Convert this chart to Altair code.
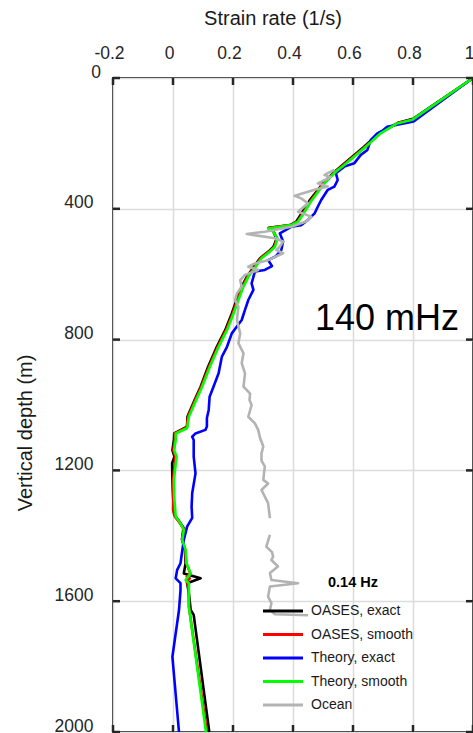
import altair as alt
import pandas as pd

FONT = "Liberation Sans"

series_names = ["OASES, exact", "OASES, smooth", "Theory, exact", "Theory, smooth", "Ocean"]
series_colors = ["#000000", "#ff0000", "#0000ff", "#00ff00", "#b3b3b3"]

x_ticks = [-0.2, 0, 0.2, 0.4, 0.6, 0.8, 1.0]
y_ticks = [0, 400, 800, 1200, 1600, 2000]

# (depth m, strain rate 1/s)
oases_exact = [(0, 1.0), (125, 0.800), (137, 0.750), (166, 0.690), (212, 0.635), (266, 0.565), (290, 0.535),
               (322, 0.500), (375, 0.455), (412, 0.430), (440, 0.410), (450, 0.390), (458, 0.320), (470, 0.335),
               (492, 0.345), (516, 0.335), (531, 0.318), (551, 0.290), (587, 0.262), (608, 0.246), (640, 0.228),
               (679, 0.212), (720, 0.196), (771, 0.174), (822, 0.146), (883, 0.117), (944, 0.092), (985, 0.072),
               (1036, 0.048), (1066, 0.047), (1087, 0.004), (1107, 0.003), (1138, -0.002), (1158, 0.005),
               (1178, -0.003), (1229, -0.002), (1280, 0.000), (1335, 0.004), (1355, 0.020), (1375, 0.035),
               (1410, 0.030), (1443, 0.040), (1484, 0.042), (1515, 0.036), (1530, 0.092), (1545, 0.047),
               (1575, 0.053), (1627, 0.059), (1642, 0.069), (2000, 0.121)]

oases_smooth = [(0, 1.0), (127, 0.800), (138, 0.750), (168, 0.690), (214, 0.636), (266, 0.568), (288, 0.540),
                (322, 0.502), (378, 0.457), (414, 0.433), (440, 0.414), (450, 0.392), (459, 0.318), (470, 0.336),
                (491, 0.347), (516, 0.338), (531, 0.320), (551, 0.292), (587, 0.265), (608, 0.248), (639, 0.232),
                (679, 0.215), (720, 0.199), (771, 0.177), (822, 0.149), (883, 0.120), (944, 0.094), (985, 0.074),
                (1036, 0.050), (1068, 0.046), (1087, 0.006), (1107, 0.006), (1138, 0.001), (1158, 0.008),
                (1229, 0.000), (1280, 0.001), (1320, 0.000), (1341, 0.006), (1360, 0.022), (1380, 0.036),
                (1412, 0.030), (1443, 0.041), (1484, 0.044), (1515, 0.058), (1525, 0.046), (1530, 0.056),
                (1540, 0.046), (1560, 0.052), (1617, 0.053), (2000, 0.113)]

theory_exact = [(0, 1.0), (133, 0.802), (149, 0.714), (160, 0.700), (170, 0.680), (190, 0.659), (220, 0.648),
                (235, 0.626), (261, 0.604), (271, 0.571), (291, 0.543), (312, 0.549), (332, 0.538), (342, 0.516),
                (373, 0.494), (393, 0.483), (414, 0.472), (434, 0.450), (450, 0.427), (455, 0.394), (475, 0.356),
                (500, 0.367), (526, 0.361), (546, 0.342), (557, 0.317), (575, 0.330), (587, 0.306), (592, 0.273),
                (628, 0.262), (648, 0.268), (679, 0.251), (709, 0.240), (740, 0.229), (760, 0.213), (781, 0.196),
                (822, 0.180), (852, 0.163), (903, 0.152), (944, 0.135), (975, 0.122), (1015, 0.119), (1040, 0.113),
                (1066, 0.113), (1076, 0.108), (1087, 0.075), (1097, 0.064), (1107, 0.069), (1158, 0.069),
                (1209, 0.075), (1270, 0.064), (1311, 0.062), (1345, 0.064), (1372, 0.047), (1413, 0.036),
                (1484, 0.025), (1504, 0.014), (1530, 0.009), (1545, 0.025), (1566, 0.025), (1627, 0.020),
                (1770, -0.002), (2000, 0.020)]

theory_smooth = [(0, 1.0), (128, 0.797), (139, 0.747), (169, 0.692), (215, 0.637), (266, 0.571), (286, 0.543),
                 (322, 0.505), (380, 0.458), (415, 0.435), (439, 0.417), (450, 0.394), (460, 0.317), (470, 0.334),
                 (490, 0.348), (516, 0.340), (531, 0.323), (551, 0.295), (587, 0.268), (608, 0.251), (638, 0.235),
                 (679, 0.218), (720, 0.202), (771, 0.180), (822, 0.152), (883, 0.123), (944, 0.097), (985, 0.077),
                 (1036, 0.053), (1071, 0.047), (1087, 0.009), (1107, 0.009), (1138, 0.004), (1158, 0.012),
                 (1229, 0.003), (1280, 0.004), (1341, 0.009), (1362, 0.025), (1382, 0.036), (1413, 0.031),
                 (1443, 0.042), (1484, 0.045), (1515, 0.059), (1535, 0.042), (1545, 0.053), (1617, 0.053),
                 (2000, 0.110)]

ocean_upper = [(281, 0.538), (291, 0.516), (297, 0.505), (303, 0.525), (322, 0.483), (332, 0.516), (342, 0.472),
               (360, 0.406), (368, 0.427), (383, 0.450), (409, 0.417), (424, 0.461), (439, 0.444), (455, 0.394),
               (470, 0.306), (477, 0.246), (490, 0.340), (500, 0.367), (516, 0.356), (526, 0.345), (536, 0.367),
               (557, 0.317), (567, 0.273), (577, 0.251), (587, 0.284), (602, 0.240), (618, 0.224), (638, 0.229),
               (659, 0.213), (679, 0.207), (700, 0.218), (740, 0.213), (781, 0.224), (811, 0.218), (842, 0.235),
               (872, 0.229), (903, 0.240), (944, 0.235), (965, 0.257), (985, 0.255), (1000, 0.262), (1036, 0.251),
               (1056, 0.273), (1076, 0.284), (1100, 0.290), (1127, 0.301), (1148, 0.295), (1170, 0.295),
               (1188, 0.306), (1229, 0.301), (1240, 0.317), (1260, 0.295), (1300, 0.317), (1346, 0.323)]
ocean_lower = [(1397, 0.323), (1433, 0.311), (1450, 0.330), (1464, 0.334), (1474, 0.328), (1494, 0.350),
               (1514, 0.323), (1535, 0.328), (1545, 0.417), (1555, 0.323), (1586, 0.317), (1606, 0.328),
               (1627, 0.323), (1640, 0.340), (1643, 0.450)]

legend_title_text = "0.14 Hz"
panel_label_text = "140 mHz"

W, H = 360, 654


def frame(points, name, seg="a"):
    return pd.DataFrame({
        "depth": [p[0] for p in points],
        "rate": [p[1] for p in points],
        "series": name,
        "seg": seg,
        "idx": list(range(len(points))),
    })


x_scale = alt.Scale(domain=[-0.2, 1.0], nice=False, zero=False)
y_scale = alt.Scale(domain=[0, 2000], nice=False, zero=False, reverse=True)
x_axis = alt.Axis(orient="top", values=x_ticks, title="Strain rate (1/s)", grid=True, ticks=False, domain=False,
                  labelExpr="datum.value < 0 ? '-' + format(-datum.value, '~g') : format(datum.value, '~g')",
                  labelFontSize=17.5, labelPadding=16, labelOffset=-4, labelColor="#262626",
                  labelOverlap=False, labelBound=False, labelFlush=False,
                  titleFontSize=20, titleFontWeight="normal", titleColor="#1a1a1a",
                  titleX=159.5, titleY=-54, titleAlign="center", titleBaseline="alphabetic", titleAnchor="middle")
y_axis = alt.Axis(orient="left", values=y_ticks, title="Vertical depth (m)", grid=True, ticks=False, domain=False,
                  labelExpr="datum.value == 0 ? '' : datum.label", format="d",
                  labelFontSize=17.5, labelPadding=20, labelOffset=-6, labelColor="#262626",
                  labelOverlap=False, labelBound=False, labelFlush=False,
                  titleFontSize=20, titleFontWeight="normal", titleColor="#1a1a1a",
                  titleX=-88, titleY=354.5, titleAngle=270, titleAlign="center", titleBaseline="middle")

X = alt.X("rate:Q", scale=x_scale, axis=x_axis)
Y = alt.Y("depth:Q", scale=y_scale, axis=y_axis)
color = alt.Color("series:N", scale=alt.Scale(domain=series_names, range=series_colors), legend=None)


def line_layer(df, width=2.6):
    return alt.Chart(df).mark_line(strokeWidth=width, strokeJoin="round").encode(
        x=X, y=Y, color=color, detail="seg:N", order="idx:Q")


layers = [
    line_layer(frame(oases_exact, series_names[0])),
    line_layer(frame(oases_smooth, series_names[1])),
    line_layer(frame(theory_exact, series_names[2])),
    line_layer(frame(theory_smooth, series_names[3])),
    line_layer(pd.concat([frame(ocean_upper, series_names[4], "a"), frame(ocean_lower, series_names[4], "b")]), 2.6),
]

xt = pd.DataFrame({"rate": x_ticks})
yt = pd.DataFrame({"depth": y_ticks})
tick_style = dict(color="#262626", strokeWidth=2.5)
top_ticks = alt.Chart(xt).mark_rule(**tick_style).encode(x=X, y=alt.value(0), y2=alt.value(7))
bottom_ticks = alt.Chart(xt).mark_rule(**tick_style).encode(x=X, y=alt.value(H - 7), y2=alt.value(H))
left_ticks = alt.Chart(yt).mark_rule(**tick_style).encode(y=Y, x=alt.value(0), x2=alt.value(7))
right_ticks = alt.Chart(yt).mark_rule(**tick_style).encode(y=Y, x=alt.value(W - 7), x2=alt.value(W))

zero_label = alt.Chart(pd.DataFrame({"depth": [0], "t": ["0"]})).mark_text(
    align="right", baseline="alphabetic", fontSize=17.5, color="#262626", font=FONT
).encode(y=Y, x=alt.value(-12), text="t:N")

freq_label = alt.Chart(pd.DataFrame({"t": [panel_label_text]})).mark_text(
    align="left", baseline="alphabetic", fontSize=36, color="#000000", font=FONT
).encode(x=alt.value(202), y=alt.value(252), text="t:N")

# legend (drawn by hand so that row spacing matches)
legend_df = pd.DataFrame({"series": series_names, "row": list(range(len(series_names)))})
legend_base = alt.Chart(legend_df).transform_calculate(ly="533 + 23.5 * datum.row")
LY = alt.Y("ly:Q", scale=None, axis=None)
legend_lines = legend_base.mark_rule(strokeWidth=3).encode(
    x=alt.value(150), x2=alt.value(190), y=LY, color=color)
legend_labels = legend_base.mark_text(
    align="left", baseline="middle", fontSize=14, color="#1a1a1a", font=FONT
).encode(x=alt.value(198), y=LY, text="series:N")
legend_title = alt.Chart(pd.DataFrame({"t": [legend_title_text]})).mark_text(
    align="center", baseline="middle", fontSize=14.5, fontWeight="bold", color="#000000", font=FONT
).encode(x=alt.value(240), y=alt.value(505), text="t:N")

chart = alt.layer(
    *layers, top_ticks, bottom_ticks, left_ticks, right_ticks, zero_label, freq_label,
    legend_lines, legend_labels, legend_title
).properties(
    width=W, height=H,
    autosize=alt.AutoSizeParams(type="none"),
    padding={"left": 113, "top": 78, "right": 0, "bottom": 1},
).configure(font=FONT).configure_view(
    stroke="#262626", strokeWidth=2
).configure_axis(
    gridColor="#dcdcdc", gridWidth=1.5
)

chart.save("out.html", embed_options={"renderer": "svg", "actions": False})
